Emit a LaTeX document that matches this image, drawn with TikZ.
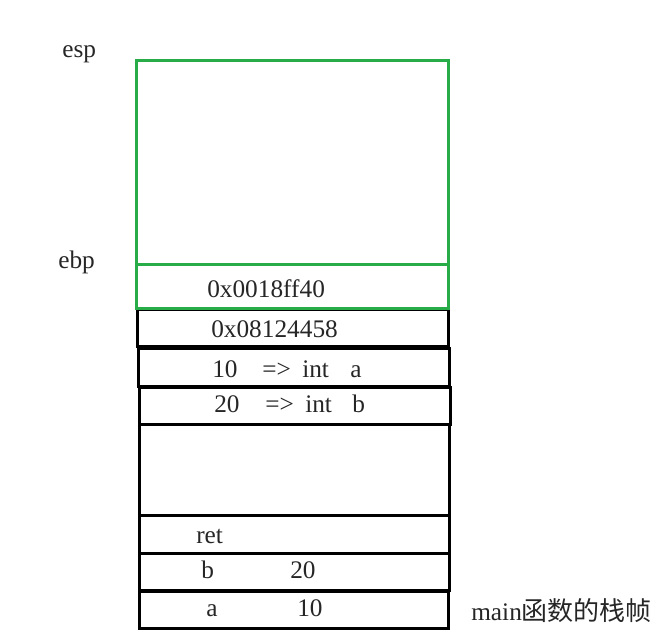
\documentclass[tikz,border=0pt]{standalone}
\usepackage{fontspec}
\setmainfont{Liberation Serif}
\newfontfamily\cjk{Noto Sans CJK SC}
\definecolor{frameGreen}{RGB}{40, 172, 72}

\tikzset{
    cell/.style={draw, line width=2.4pt, anchor=north west, inner sep=0pt},
    lbl/.style={anchor=base west, inner sep=0pt, font=\fontsize{18}{20}\selectfont, text=black!85}
}

\begin{document}
\begin{tikzpicture}[x=0.025cm, y=-0.025cm]
    \useasboundingbox (0,0) rectangle (660,638);
    % main frame (black)
    \node[cell, minimum width=7.775cm, minimum height=0.925cm] (retaddr) at (136,308) {};
    \node[cell, minimum width=7.775cm, minimum height=0.95cm] (arga) at (137,347) {};
    \node[cell, minimum width=7.775cm, minimum height=0.925cm] (argb) at (138,386) {};
    \node[cell, minimum width=7.75cm, minimum height=2.275cm] (gap) at (138,423) {};
    \node[cell, minimum width=7.75cm, minimum height=0.95cm] (ret) at (138,514) {};
    \node[cell, minimum width=7.75cm, minimum height=0.925cm] (varb) at (138,552) {};
    \node[cell, minimum width=7.725cm, minimum height=0.925cm] (vara) at (138,590) {};
    % new frame (green)
    \node[cell, frameGreen, line width=2pt, minimum width=7.8cm, minimum height=5.1cm] (newframe) at (135,59) {};
    \node[cell, frameGreen, line width=2pt, minimum width=7.8cm, minimum height=1.1cm] (oldebp) at (135,263) {};

    \node[lbl] (esp) at (62,57) {esp};
    \node[lbl] (ebp) at (58,268) {ebp};
    \node[lbl] (oldebptxt) at (207,297) {0x0018ff40};
    \node[lbl] (retaddrtxt) at (211,337) {0x08124458};
    % 10 => int a
    \node[lbl] (aval1) at (212,377) {10};
    \node[lbl] (aarrow) at (262,377) {=>};
    \node[lbl] (aint) at (302,377) {int};
    \node[lbl] (aname1) at (350,377) {a};
    % 20 => int b
    \node[lbl] (bval1) at (214,412) {20};
    \node[lbl] (barrow) at (265,412) {=>};
    \node[lbl] (bint) at (305,412) {int};
    \node[lbl] (bname1) at (352,412) {b};

    \node[lbl] (rettxt) at (196,543) {ret};
    \node[lbl] (bname) at (201,578) {b};
    \node[lbl] (bval) at (290,578) {20};
    \node[lbl] (aname) at (206,616) {a};
    \node[lbl] (aval) at (297,616) {10};
    \node[lbl] (caption) at (471,620) {main{\cjk\fontsize{18.5}{20}\selectfont 函数的栈帧}};
\end{tikzpicture}
\end{document}
